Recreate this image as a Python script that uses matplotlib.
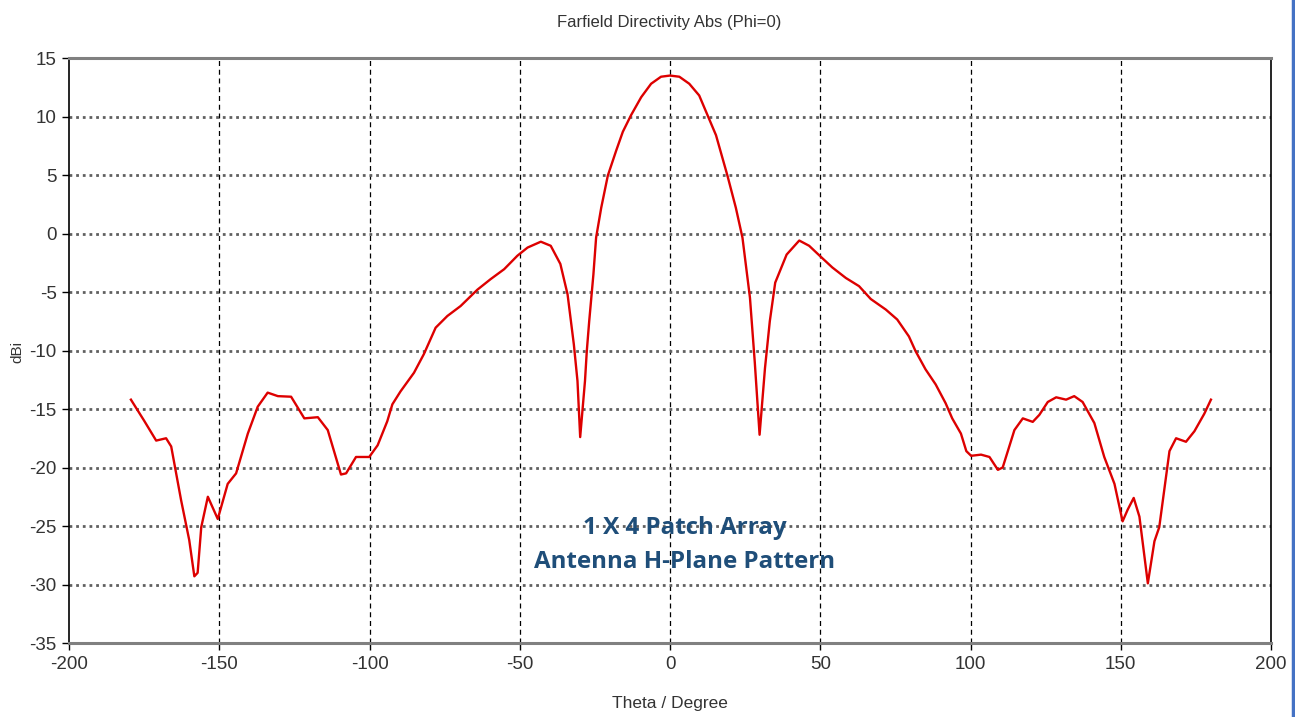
import matplotlib
matplotlib.use("Agg")
import matplotlib.pyplot as plt
from matplotlib.lines import Line2D

# farfield directivity, phi = 0 cut
theta = [-179.4, -175.0, -171.0, -167.7, -166.0, -162.7, -160.0, -158.3, -157.2, -156.0,
         -153.8, -150.5, -147.2, -144.4, -140.5, -137.2, -133.9, -130.5, -126.1, -121.7,
         -117.2, -113.9, -109.5, -107.8, -104.5, -100.1, -97.3, -94.1, -92.4, -89.7,
         -85.2, -81.9, -78.0, -74.1, -69.7, -64.1, -59.7, -55.2, -50.8, -47.4,
         -43.0, -39.7, -36.5, -34.1, -32.0, -30.8, -29.9, -28.3, -27.7, -26.9,
         -25.5, -24.6, -22.9, -20.7, -17.9, -15.7, -13.0, -9.6, -6.3, -3.0,
         0.0, 3.1, 6.4, 9.7, 12.5, 15.3, 19.1, 21.9, 24.1, 26.6,
         28.2, 29.8, 31.6, 33.2, 35.0, 38.8, 43.0, 46.3, 49.8, 54.0,
         58.5, 62.9, 66.8, 71.8, 75.6, 79.5, 81.7, 85.0, 88.4, 91.7,
         93.9, 96.8, 98.6, 100.2, 103.5, 106.3, 109.1, 110.7, 114.6, 117.4,
         120.7, 122.9, 125.7, 128.5, 131.8, 134.5, 137.3, 141.2, 144.5, 147.9,
         150.6, 152.3, 154.3, 156.2, 159.0, 161.2, 162.8, 166.2, 168.4, 171.7,
         174.5, 177.8, 180.0]
dbi = [-14.2, -16.0, -17.7, -17.5, -18.2, -22.8, -26.2, -29.3, -29.0, -25.1,
       -22.5, -24.4, -21.4, -20.5, -17.1, -14.8, -13.6, -13.9, -13.95, -15.8,
       -15.7, -16.8, -20.6, -20.5, -19.1, -19.1, -18.1, -16.05, -14.6, -13.5,
       -11.9, -10.3, -8.05, -7.05, -6.2, -4.8, -3.9, -3.05, -1.9, -1.2,
       -0.7, -1.05, -2.6, -5.2, -9.5, -12.6, -17.4, -12.6, -10.05, -7.5,
       -3.5, -0.35, 2.2, 4.95, 7.1, 8.7, 10.1, 11.65, 12.8, 13.4,
       13.5, 13.4, 12.8, 11.8, 10.1, 8.4, 4.95, 2.2, -0.35, -5.5,
       -11.0, -17.2, -11.5, -7.5, -4.2, -1.8, -0.6, -1.05, -1.9, -2.9,
       -3.8, -4.5, -5.6, -6.5, -7.35, -8.8, -10.05, -11.6, -12.9, -14.5,
       -15.8, -17.1, -18.6, -19.0, -18.9, -19.1, -20.2, -20.0, -16.8, -15.8,
       -16.1, -15.5, -14.4, -14.0, -14.2, -13.9, -14.4, -16.2, -19.1, -21.4,
       -24.6, -23.6, -22.6, -24.2, -29.9, -26.3, -25.1, -18.6, -17.5, -17.8,
       -16.9, -15.4, -14.2]

xticks = [-200, -150, -100, -50, 0, 50, 100, 150, 200]
yticks = [15, 10, 5, 0, -5, -10, -15, -20, -25, -30, -35]

plt.rcParams['font.family'] = ['Liberation Sans', 'DejaVu Sans']
plt.rcParams['axes.unicode_minus'] = False

fig = plt.figure(figsize=(12.95, 7.17), dpi=100)
ax = fig.add_axes([0.0533, 0.1032, 0.9282, 0.8159])

ax.plot(theta, dbi, color='#dd0000', lw=1.7, zorder=3)

ax.set_xlim(-200, 200)
ax.set_ylim(-35, 15)
ax.set_xticks(xticks)
ax.set_yticks(yticks)
ax.tick_params(direction='out', length=5, width=1, color='black',
               labelsize=13.5, labelcolor='#333333', pad=4)

# grid: dashed black verticals, dotted grey horizontals
for xv in xticks[1:-1]:
    ax.axvline(xv, color='black', lw=0.9, ls=(0, (4, 3)), zorder=1)
for yv in yticks[1:-1]:
    ax.axhline(yv, color='#606060', lw=2.0, ls=(0, (1, 1.4)), zorder=1)

for s in ['top', 'bottom']:
    ax.spines[s].set_color('#808080')
    ax.spines[s].set_linewidth(2.2)
for s in ['left', 'right']:
    ax.spines[s].set_color('black')
    ax.spines[s].set_linewidth(1.2)

fig.text(0.517, 0.968, 'Farfield Directivity Abs (Phi=0)', ha='center', va='center',
         fontsize=12, color='#333333')
fig.text(0.517, 0.019, 'Theta / Degree', ha='center', va='center',
         fontsize=12.5, color='#333333')
fig.text(0.0135, 0.509, 'dBi', ha='center', va='center', rotation=90,
         fontsize=11, color='#333333')

ax.text(0.512, 0.167, '1 X 4 Patch Array\nAntenna H-Plane Pattern', transform=ax.transAxes,
        ha='center', va='center', fontsize=17.4, fontweight='bold', color='#1f4e79',
        family=['Open Sans', 'DejaVu Sans'], linespacing=1.55, zorder=4)

# blue border at the right edge of the screenshot
fig.add_artist(Line2D([0.9985, 0.9985], [0, 1], transform=fig.transFigure,
                      color='#4472c4', lw=2.5))

fig.savefig('out.png', dpi=100, facecolor='white')
